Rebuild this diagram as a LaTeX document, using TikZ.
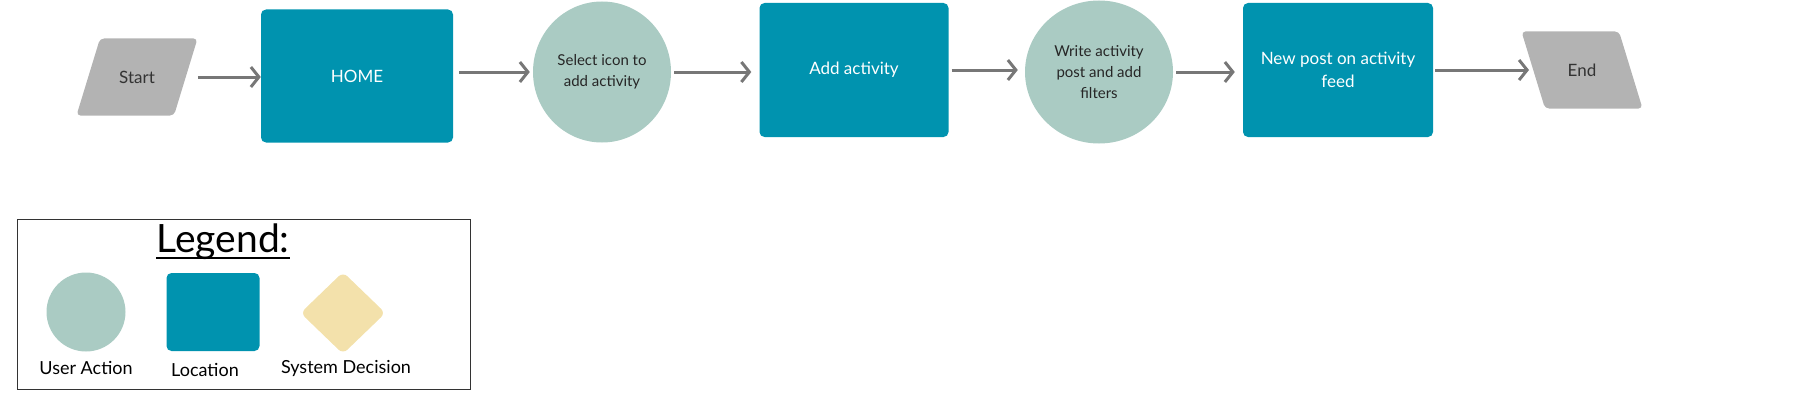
\documentclass[tikz,border=0pt]{standalone}
\usepackage{fontspec}
\setmainfont{Lato}
\usetikzlibrary{shapes.geometric,arrows.meta}

\definecolor{locteal}{RGB}{0,147,175}
\definecolor{actsage}{RGB}{170,203,195}
\definecolor{termgrey}{RGB}{179,179,179}
\definecolor{flowgrey}{RGB}{119,119,119}
\definecolor{decsand}{RGB}{243,225,171}

\tikzset{
    location/.style={rectangle,rounded corners=5pt,fill=locteal,text=white,align=center,font=\fontsize{17}{23}\selectfont},
    useraction/.style={ellipse,fill=actsage,text=black!85,align=center,inner sep=0pt,font=\fontsize{15}{21}\selectfont},
    terminal/.style={trapezium,rounded corners=4pt,fill=termgrey,text=black!80,font=\fontsize{17}{20}\selectfont,
        text width=40pt,align=center,text height=13.5pt,text depth=1.5pt,inner ysep=31pt,inner xsep=17pt},
    flow/.style={draw=flowgrey,line width=3pt,-{Straight Barb[length=8pt,width=20pt]}},
    legendlabel/.style={font=\fontsize{18}{20}\selectfont}
}

\begin{document}
\begin{tikzpicture}[x=1pt,y=-1pt]
            \useasboundingbox (0,0) rectangle (1811,412);

            \node[terminal,trapezium left angle=73,trapezium right angle=107] (start) at (137,77) {Start};
            \node[location,minimum width=192pt,minimum height=133pt] (home) at (357,76) {HOME};
            \node[useraction,minimum width=138pt,minimum height=141pt] (select) at (602,72) {Select icon to\\add activity};
            \node[location,minimum width=189pt,minimum height=134pt] (addact) at (854,70) {Add activity};
            \node[useraction,minimum width=148pt,minimum height=143pt] (write) at (1099,72) {Write activity\\post and add\\filters};
            \node[location,minimum width=190pt,minimum height=134pt] (newpost) at (1338,70) {New post on activity\\feed};
            \node[terminal,trapezium left angle=107,trapezium right angle=73] (end) at (1582,70) {End};

            \draw[flow] (start.top right corner |- start) -- (home.west |- start);
            \draw[flow,shorten <=6pt,shorten >=3pt] (home.east |- select) -- (select.west);
            \draw[flow,shorten <=3pt,shorten >=8pt] (select.east) -- (select.east -| addact.west);
            \draw[flow,shorten <=3pt,shorten >=7pt] (addact.east) -- (addact.east -| write.west);
            \draw[flow,shorten <=3pt,shorten >=8pt] (write.east) -- (write.east -| newpost.west);
            \draw[flow,shorten <=2pt,shorten >=4pt] (newpost.east) -- (newpost.east -| end.west);

            \draw[black!80,line width=1pt] (17,219) rectangle (470,389);
            \node[inner sep=0pt,font=\fontsize{39}{42}\selectfont] (legendtitle) at (223,242) {Legend:};
            \draw[line width=2pt] ([yshift=-5pt]legendtitle.base west) -- ([yshift=-5pt]legendtitle.base east);

            \node[useraction,minimum width=79pt,minimum height=79pt] (keyaction) at (86,312) {};
            \node[location,minimum width=93pt,minimum height=78pt] (keylocation) at (213,312) {};
            \node[diamond,rounded corners=6pt,fill=decsand,inner sep=0pt,minimum width=85pt,minimum height=82pt] (keydecision) at (343,313) {};

            \node[legendlabel] (actionlabel) at (86,368) {User Action};
            \node[legendlabel] (locationlabel) at (205,370) {Location};
            \node[legendlabel] (decisionlabel) at (346,368) {System Decision};

        \end{tikzpicture}
\end{document}
